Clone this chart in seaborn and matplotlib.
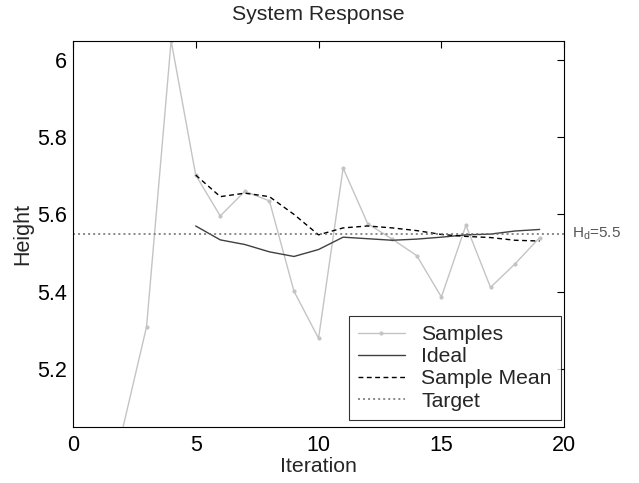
import matplotlib
matplotlib.use("Agg")
import matplotlib.pyplot as plt
import seaborn as sns

# values
sample_x = [2, 3, 4, 5, 6, 7, 8, 9, 10, 11, 12, 13, 14, 15, 16, 17, 18, 19]
sample_y = [5.037, 5.309, 6.05, 5.702, 5.596, 5.660, 5.635, 5.401, 5.279, 5.720,
            5.576, 5.536, 5.493, 5.386, 5.572, 5.411, 5.472, 5.540]

ideal_x = [5, 6, 7, 8, 9, 10, 11, 12, 13, 14, 15, 16, 17, 18, 19]
ideal_y = [5.570, 5.534, 5.522, 5.503, 5.491, 5.509, 5.541, 5.537, 5.533,
           5.536, 5.541, 5.547, 5.549, 5.557, 5.561]

mean_x = [5, 6, 7, 8, 9, 10, 11, 12, 13, 14, 15, 16, 17, 18, 19]
mean_y = [5.702, 5.646, 5.655, 5.646, 5.600, 5.547, 5.565, 5.570, 5.565,
          5.558, 5.548, 5.543, 5.540, 5.533, 5.531]

target = 5.55
target_label = "5.5"

sns.set_style("white")
plt.rcParams['font.family'] = ['Liberation Sans', 'DejaVu Sans']
plt.rcParams['mathtext.fontset'] = 'custom'
plt.rcParams['mathtext.rm'] = 'Liberation Sans'

fig = plt.figure(figsize=(6.39, 4.83), dpi=100)
ax = fig.add_axes([0.114, 0.1166, 0.769, 0.7991])

sns.lineplot(x=sample_x, y=sample_y, ax=ax, color="#c4c4c4", linewidth=1,
             marker="o", markersize=3, markeredgewidth=0, label="Samples")
sns.lineplot(x=ideal_x, y=ideal_y, ax=ax, color="#404040", linewidth=1, label="Ideal")
sns.lineplot(x=mean_x, y=mean_y, ax=ax, color="black", linewidth=1,
             linestyle=(0, (3.5, 2.5)), label="Sample Mean")
ax.axhline(target, color="#6a6a6a", linewidth=1.1, linestyle=(0, (1.3, 2)), label="Target")

ax.set_xlim(0, 20)
ax.set_ylim(5.05, 6.05)
ax.set_xticks([0, 5, 10, 15, 20])
ax.set_yticks([5.2, 5.4, 5.6, 5.8, 6.0])
ax.set_yticklabels(["5.2", "5.4", "5.6", "5.8", "6"])
ax.tick_params(direction="in", length=5, width=0.8, labelsize=15.5,
               top=True, right=True, colors="black")
ax.tick_params(axis="x", pad=6)
ax.tick_params(axis="y", pad=4)
for s in ax.spines.values():
    s.set_color("black")
    s.set_linewidth(0.8)

ax.set_title("System Response", fontsize=15.3, pad=15)
ax.set_xlabel("Iteration", fontsize=15.3, labelpad=1)
ax.set_ylabel("Height", fontsize=15.5, labelpad=3)

ax.text(20.3, target, r"H$_\mathrm{d}$=" + target_label, fontsize=11,
        color="#555555", va="center", ha="left", clip_on=False)

leg = ax.legend(loc="lower right", bbox_to_anchor=(0.994, 0.017), borderaxespad=0,
                fontsize=15.2, frameon=True, fancybox=False, edgecolor="black",
                handlelength=2.2, handletextpad=0.8, labelspacing=0.15,
                borderpad=0.45)
leg.get_frame().set_linewidth(0.8)

fig.savefig("out.png", dpi=100)
